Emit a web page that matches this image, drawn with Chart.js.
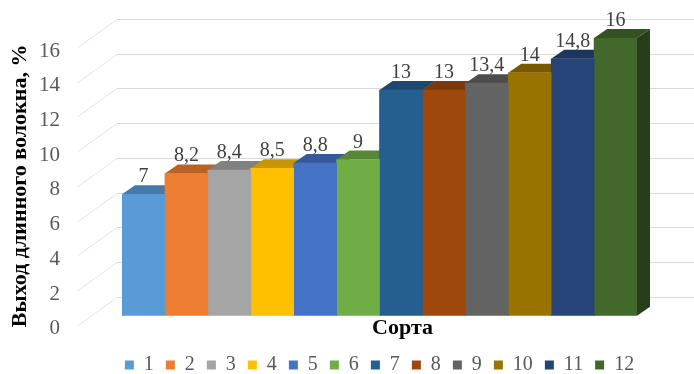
<!DOCTYPE html>
<html>
<head>
<meta charset="utf-8">
<script src="https://cdn.jsdelivr.net/npm/chart.js@4"></script>
<style>
  html, body { margin: 0; padding: 0; background: #ffffff; }
  canvas { display: block; }
</style>
</head>
<body>
<canvas id="chart" width="694" height="374"></canvas>
<script>
// Сорта и выход длинного волокна, %
const categories = ['1', '2', '3', '4', '5', '6', '7', '8', '9', '10', '11', '12'];
const yieldValues = [7, 8.2, 8.4, 8.5, 8.8, 9, 13, 13, 13.4, 14, 14.8, 16];
const barColors = ['#5B9BD5', '#ED7D31', '#A5A5A5', '#FFC000', '#4472C4', '#70AD47',
                   '#255E91', '#9E480E', '#636363', '#997300', '#264478', '#43682B'];
const yTicks = [0, 2, 4, 6, 8, 10, 12, 14, 16];

const SERIF = "'Liberation Serif', 'Times New Roman', serif";
Chart.defaults.font.family = SERIF;

// depth of the pseudo-3D boxes and of the back wall
const DEPTH = { dx: 13, dy: -9 };
const WALL = { frontX: 78, frontDy: 9, backX: 117, backDy: -19 };

function shade(hex, f) {
  const n = parseInt(hex.slice(1), 16);
  const r = Math.round(((n >> 16) & 255) * f);
  const g = Math.round(((n >> 8) & 255) * f);
  const b = Math.round((n & 255) * f);
  return `rgb(${r},${g},${b})`;
}

// one series per variety so that each gets its own legend entry
const datasets = categories.map((name, i) => ({
  label: name,
  data: categories.map((_, j) => (j === i ? yieldValues[i] : null)),
  backgroundColor: barColors[i],
  borderWidth: 0
}));

// back wall grid, side wall diagonals, box tops and sides
const box3d = {
  id: 'box3d',
  beforeDatasetsDraw(chart) {
    const { ctx, scales: { y }, width } = chart;
    ctx.save();
    ctx.lineWidth = 1;
    yTicks.forEach(v => {
      const py = Math.round(y.getPixelForValue(v)) + 0.5;
      ctx.strokeStyle = '#e3e3e3';
      ctx.beginPath();
      ctx.moveTo(WALL.frontX, py + WALL.frontDy);
      ctx.lineTo(WALL.backX, py + WALL.backDy);
      ctx.stroke();
      ctx.strokeStyle = '#d9d9d9';
      ctx.beginPath();
      ctx.moveTo(WALL.backX, py + WALL.backDy);
      ctx.lineTo(width, py + WALL.backDy);
      ctx.stroke();
    });
    chart.data.datasets.forEach((ds, i) => {
      const meta = chart.getDatasetMeta(i);
      if (meta.hidden) return;
      meta.data.forEach((bar, j) => {
        if (ds.data[j] == null) return;
        const { x, y: top, base, width: w } = bar.getProps(['x', 'y', 'base', 'width'], true);
        const l = x - w / 2, r = x + w / 2;
        ctx.fillStyle = shade(barColors[i], 0.6);
        ctx.beginPath();
        ctx.moveTo(r, top);
        ctx.lineTo(r + DEPTH.dx, top + DEPTH.dy);
        ctx.lineTo(r + DEPTH.dx, base + DEPTH.dy);
        ctx.lineTo(r, base);
        ctx.closePath();
        ctx.fill();
        ctx.fillStyle = shade(barColors[i], 0.78);
        ctx.beginPath();
        ctx.moveTo(l, top);
        ctx.lineTo(l + DEPTH.dx, top + DEPTH.dy);
        ctx.lineTo(r + DEPTH.dx, top + DEPTH.dy);
        ctx.lineTo(r, top);
        ctx.closePath();
        ctx.fill();
      });
    });
    ctx.restore();
  },
  afterDatasetsDraw(chart) {
    const { ctx } = chart;
    ctx.save();
    ctx.font = `20px ${SERIF}`;
    ctx.fillStyle = '#404040';
    ctx.textAlign = 'center';
    ctx.textBaseline = 'alphabetic';
    chart.data.datasets.forEach((ds, i) => {
      const meta = chart.getDatasetMeta(i);
      if (meta.hidden) return;
      meta.data.forEach((bar, j) => {
        const v = ds.data[j];
        if (v == null) return;
        ctx.fillText(String(v).replace('.', ','), bar.x, bar.y - 12);
      });
    });
    ctx.restore();
  }
};

// the axis titles sit centred on the whole 3D plot, not only the front plane;
// the legend row is allowed to run a little wider than the front plane
const TITLE_SHIFT = { x: [23, 0], y: [0, 9] };
const LEGEND_SPREAD = 20;
const layoutTweaks = {
  id: 'layoutTweaks',
  beforeLayout(chart) {
    const legend = chart.legend;
    if (legend && !legend.$wide) {
      const update = legend.update;
      legend.update = function (maxWidth, maxHeight, margins) {
        update.call(this, maxWidth + 2 * LEGEND_SPREAD, maxHeight, margins);
      };
      legend.$wide = true;
    }
  },
  afterLayout(chart) {
    const legend = chart.legend;
    legend.left -= LEGEND_SPREAD;
    legend.right += LEGEND_SPREAD;
    legend.width = legend.right - legend.left;
  },
  beforeDraw(chart) {
    Object.entries(TITLE_SHIFT).forEach(([id, [dx, dy]]) => {
      const scale = chart.scales[id];
      if (!scale || scale.$shifted) return;
      const drawTitle = scale.drawTitle.bind(scale);
      scale.drawTitle = function () {
        const c = this.ctx;
        c.save();
        c.translate(dx, dy);
        drawTitle();
        c.restore();
      };
      scale.$shifted = true;
    });
  }
};

new Chart(document.getElementById('chart'), {
  type: 'bar',
  data: { labels: categories, datasets },
  plugins: [box3d, layoutTweaks],
  options: {
    responsive: false,
    animation: false,
    layout: { padding: { top: 38, right: 57, bottom: -11, left: 0 } },
    datasets: { bar: { grouped: false, categoryPercentage: 1, barPercentage: 1 } },
    scales: {
      x: {
        grid: { display: false, drawTicks: false },
        border: { display: false },
        ticks: { display: false },
        title: {
          display: true,
          text: 'Сорта',
          color: '#000000',
          font: { size: 22, weight: 'bold', lineHeight: 1.1 },
          padding: { top: 0, bottom: 3 }
        }
      },
      y: {
        min: 0,
        max: 16,
        afterBuildTicks: s => { s.ticks = yTicks.map(v => ({ value: v })); },
        afterFit: s => { s.width = 122; },
        grid: { display: false, drawTicks: true, tickLength: 58 },
        border: { display: false },
        ticks: {
          padding: 4,
          labelOffset: 13,
          color: '#595959',
          font: { size: 21 }
        },
        title: {
          display: true,
          text: 'Выход длинного волокна, %',
          color: '#000000',
          font: { size: 22, weight: 'bold', lineHeight: 1.2 },
          padding: { top: 7, bottom: 0 }
        }
      }
    },
    plugins: {
      tooltip: { enabled: false },
      legend: {
        position: 'bottom',
        fullSize: false,
        labels: {
          boxWidth: 9,
          boxHeight: 9,
          padding: 12,
          color: '#595959',
          font: { size: 20, lineHeight: 1 }
        }
      }
    }
  }
});
</script>
</body>
</html>
